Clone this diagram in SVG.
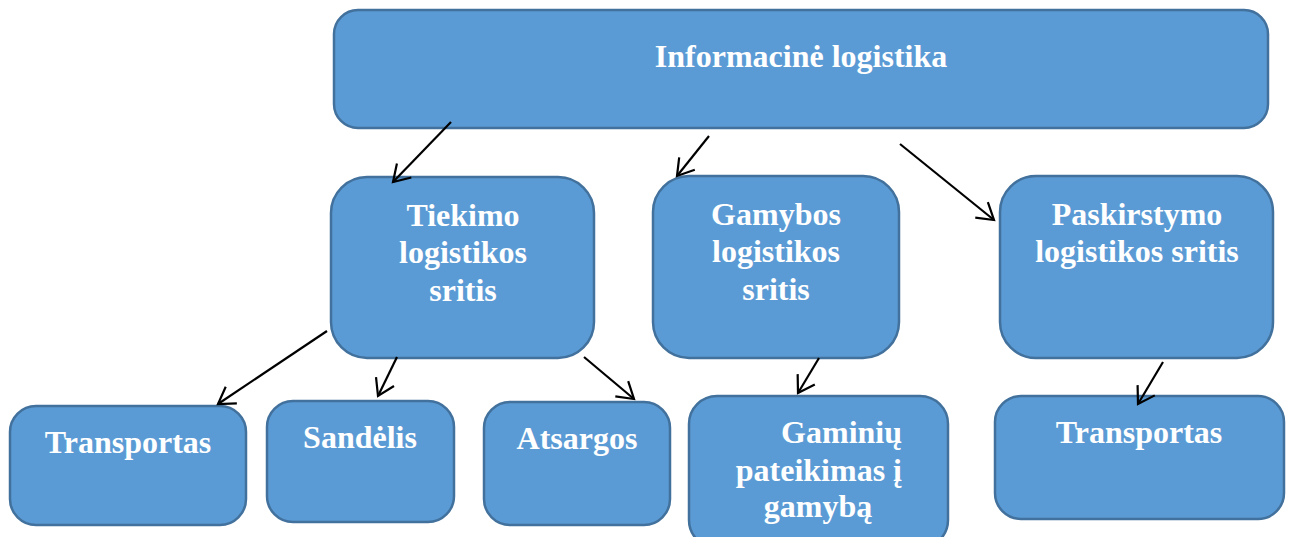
<svg xmlns="http://www.w3.org/2000/svg" width="1289" height="537" viewBox="0 0 1289 537">
  <style>
    .box { fill: #5B9BD5; stroke: #41719C; stroke-width: 2.5; }
    .lbl { font-family: "Liberation Serif", "Times New Roman", serif; font-weight: bold; font-size: 32px; fill: #FFFFFF; text-anchor: middle; }
    .end { text-anchor: end; }
    .wire { stroke: #000000; stroke-width: 2.2; fill: none; marker-end: url(#head); }
  </style>
  <defs>
    <marker id="head" markerUnits="userSpaceOnUse" viewBox="-20 -20 40 40" markerWidth="40" markerHeight="40" refX="0" refY="0" orient="auto" overflow="visible">
      <path d="M-16,-10 L0,0 L-16,10" fill="none" stroke="#000000" stroke-width="2.2" stroke-linejoin="miter"/>
    </marker>
  </defs>

  <rect width="1289" height="537" fill="#FFFFFF"/>

  <g id="informacine-logistika">
    <rect class="box" x="334" y="10" width="934" height="118" rx="24"/>
    <text class="lbl" x="801" y="67">Informacinė logistika</text>
  </g>

  <g id="tiekimo">
    <rect class="box" x="331" y="177" width="263" height="181" rx="36"/>
    <text class="lbl" x="463" y="226">Tiekimo</text>
    <text class="lbl" x="463" y="263">logistikos</text>
    <text class="lbl" x="463" y="301">sritis</text>
  </g>

  <g id="gamybos">
    <rect class="box" x="653" y="176" width="246" height="182" rx="36"/>
    <text class="lbl" x="776" y="225">Gamybos</text>
    <text class="lbl" x="776" y="262">logistikos</text>
    <text class="lbl" x="776" y="300">sritis</text>
  </g>

  <g id="paskirstymo">
    <rect class="box" x="1000" y="176" width="273" height="182" rx="36"/>
    <text class="lbl" x="1137" y="225">Paskirstymo</text>
    <text class="lbl" x="1137" y="262">logistikos sritis</text>
  </g>

  <g id="transportas-1">
    <rect class="box" x="10" y="406" width="236" height="119" rx="26"/>
    <text class="lbl" x="128" y="453">Transportas</text>
  </g>

  <g id="sandelis">
    <rect class="box" x="267" y="401" width="187" height="121" rx="26"/>
    <text class="lbl" x="360" y="448">Sandėlis</text>
  </g>

  <g id="atsargos">
    <rect class="box" x="484" y="402" width="186" height="123" rx="26"/>
    <text class="lbl" x="577" y="449">Atsargos</text>
  </g>

  <g id="gaminiu-pateikimas">
    <rect class="box" x="689" y="396" width="259" height="152" rx="28"/>
    <text class="lbl end" x="902" y="443">Gaminių</text>
    <text class="lbl end" x="902" y="481">pateikimas į</text>
    <text class="lbl" x="818" y="517">gamybą</text>
  </g>

  <g id="transportas-2">
    <rect class="box" x="995" y="396" width="289" height="123" rx="26"/>
    <text class="lbl" x="1139" y="443">Transportas</text>
  </g>

  <g id="connectors">
    <line class="wire" x1="451" y1="122" x2="393" y2="182"/>
    <line class="wire" x1="709" y1="136" x2="677" y2="176"/>
    <line class="wire" x1="900" y1="144" x2="994" y2="220"/>
    <line class="wire" x1="327" y1="331" x2="218" y2="404"/>
    <line class="wire" x1="397" y1="357" x2="378" y2="396"/>
    <line class="wire" x1="584" y1="357" x2="634" y2="399"/>
    <line class="wire" x1="819" y1="358" x2="798" y2="393"/>
    <line class="wire" x1="1163" y1="362" x2="1138" y2="404"/>
  </g>
</svg>
